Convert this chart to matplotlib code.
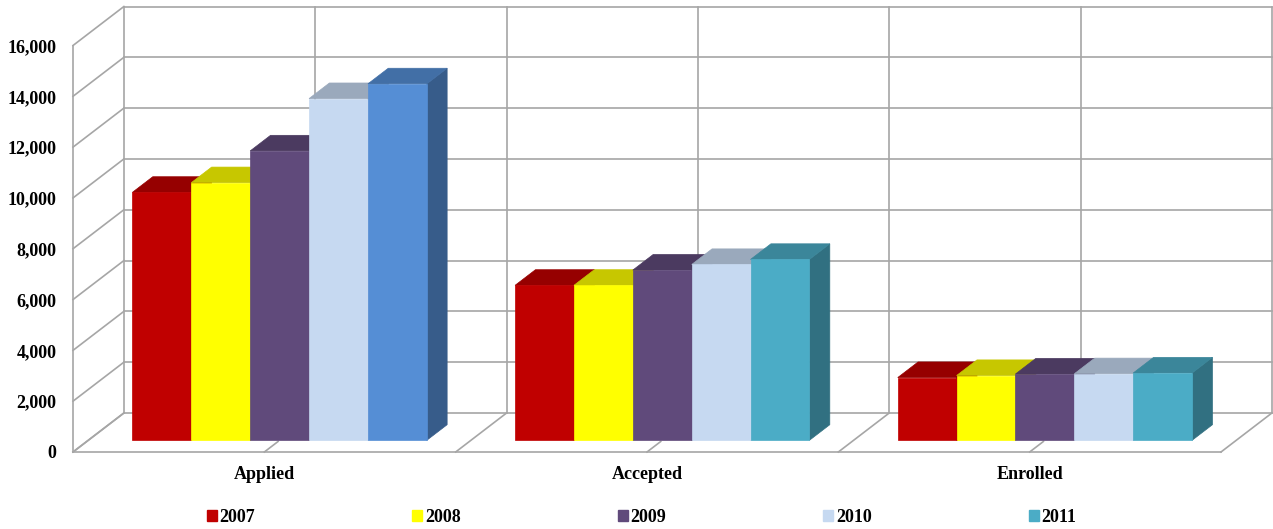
import matplotlib.pyplot as plt
from matplotlib.patches import Patch, Polygon
from matplotlib.colors import to_rgb

categories = ['Applied', 'Accepted', 'Enrolled']
years = ['2007', '2008', '2009', '2010', '2011']

applied = [9760, 10140, 11390, 13450, 14030]
accepted = [6100, 6100, 6700, 6920, 7120]
enrolled = [2470, 2550, 2610, 2620, 2650]

year_colors = ['#C00000', '#FFFF00', '#604A7B', '#C6D9F1', '#4BACC6']
applied_2011_color = '#558ED5'

yticks = list(range(0, 16001, 2000))

GRID = '#A6A6A6'
LW = 1.2

# oblique depth of the box, in data units (x: categories, y: value)
DX = 0.133
DY = 1535
# bars sit in the middle of the depth
BAR_FRONT = 0.3
BAR_DEPTH = 0.4
GAP = 1.5


def shade(color, k):
    r, g, b = to_rgb(color)
    return (r * k, g * k, b * k)


plt.rcParams['font.family'] = ['Liberation Serif', 'DejaVu Serif']
plt.rcParams['font.weight'] = 'bold'
plt.rcParams['font.size'] = 13

fig = plt.figure(figsize=(12.73, 5.29), dpi=100)
ax = fig.add_axes([73 / 1273, 77 / 529, 1148 / 1273, 406.5 / 529])
ax.set_xlim(0, 3)
ax.set_ylim(0, 16000)

# back wall
for v in yticks:
    ax.plot([DX, 3 + DX], [v + DY, v + DY], color=GRID, lw=LW, clip_on=False, zorder=1)
    # side wall
    ax.plot([0, DX], [v, v + DY], color=GRID, lw=LW, clip_on=False, zorder=1)
for k in range(7):
    x = k * 0.5 + DX
    ax.plot([x, x], [DY, 16000 + DY], color=GRID, lw=LW, clip_on=False, zorder=1)

# floor
for k in range(4):
    ax.plot([k, k + DX], [0, DY], color=GRID, lw=LW, clip_on=False, zorder=1)
for k in range(3):
    ax.plot([k + 0.5, k + 0.5 + 0.27 * DX], [0, 0.27 * DY], color=GRID, lw=LW,
            clip_on=False, zorder=1)

series = list(zip(applied, accepted, enrolled))
w = 1 / (len(years) + GAP)
fx = BAR_FRONT * DX
fy = BAR_FRONT * DY
bx = BAR_DEPTH * DX
by = BAR_DEPTH * DY

for j, (year, vals) in enumerate(zip(years, series)):
    cols = [year_colors[j]] * len(categories)
    if year == '2011':
        cols[0] = applied_2011_color
    lefts = [i + GAP * w / 2 + j * w + fx for i in range(len(categories))]
    z = 3 + 3 * j
    for x0, v, c in zip(lefts, vals, cols):
        top = v + fy
        side = Polygon([(x0 + w, fy), (x0 + w + bx, fy + by),
                        (x0 + w + bx, top + by), (x0 + w, top)],
                       closed=True, fc=shade(c, 0.65), ec=shade(c, 0.65),
                       lw=0.5, zorder=z, clip_on=False)
        lid = Polygon([(x0, top), (x0 + w, top), (x0 + w + bx, top + by),
                       (x0 + bx, top + by)],
                      closed=True, fc=shade(c, 0.78), ec=shade(c, 0.78),
                      lw=0.5, zorder=z + 1, clip_on=False)
        ax.add_patch(side)
        ax.add_patch(lid)
    ax.bar(lefts, vals, width=w, bottom=fy, align='edge', color=cols,
           edgecolor=cols, linewidth=0.5, zorder=z + 2, clip_on=False)

for s in ['top', 'right']:
    ax.spines[s].set_visible(False)
for s in ['left', 'bottom']:
    ax.spines[s].set_color(GRID)
    ax.spines[s].set_linewidth(LW)
    ax.spines[s].set_zorder(2)

ax.set_yticks(yticks)
ax.set_yticklabels([f'{v:,}' for v in yticks])
ax.set_xticks([0.5, 1.5, 2.5])
ax.set_xticklabels(categories)
ax.tick_params(axis='y', length=0, pad=12)
ax.tick_params(axis='x', length=0, pad=10)
ax.set_facecolor('none')

handles = [Patch(color=c) for c in year_colors]
fig.legend(handles, years, loc='center', bbox_to_anchor=(0.504, 1 - 517 / 529),
           ncol=5, frameon=False, handlelength=0.55, handleheight=0.55,
           handletextpad=0.15, columnspacing=8.7)

fig.savefig('out.png', dpi=100)
